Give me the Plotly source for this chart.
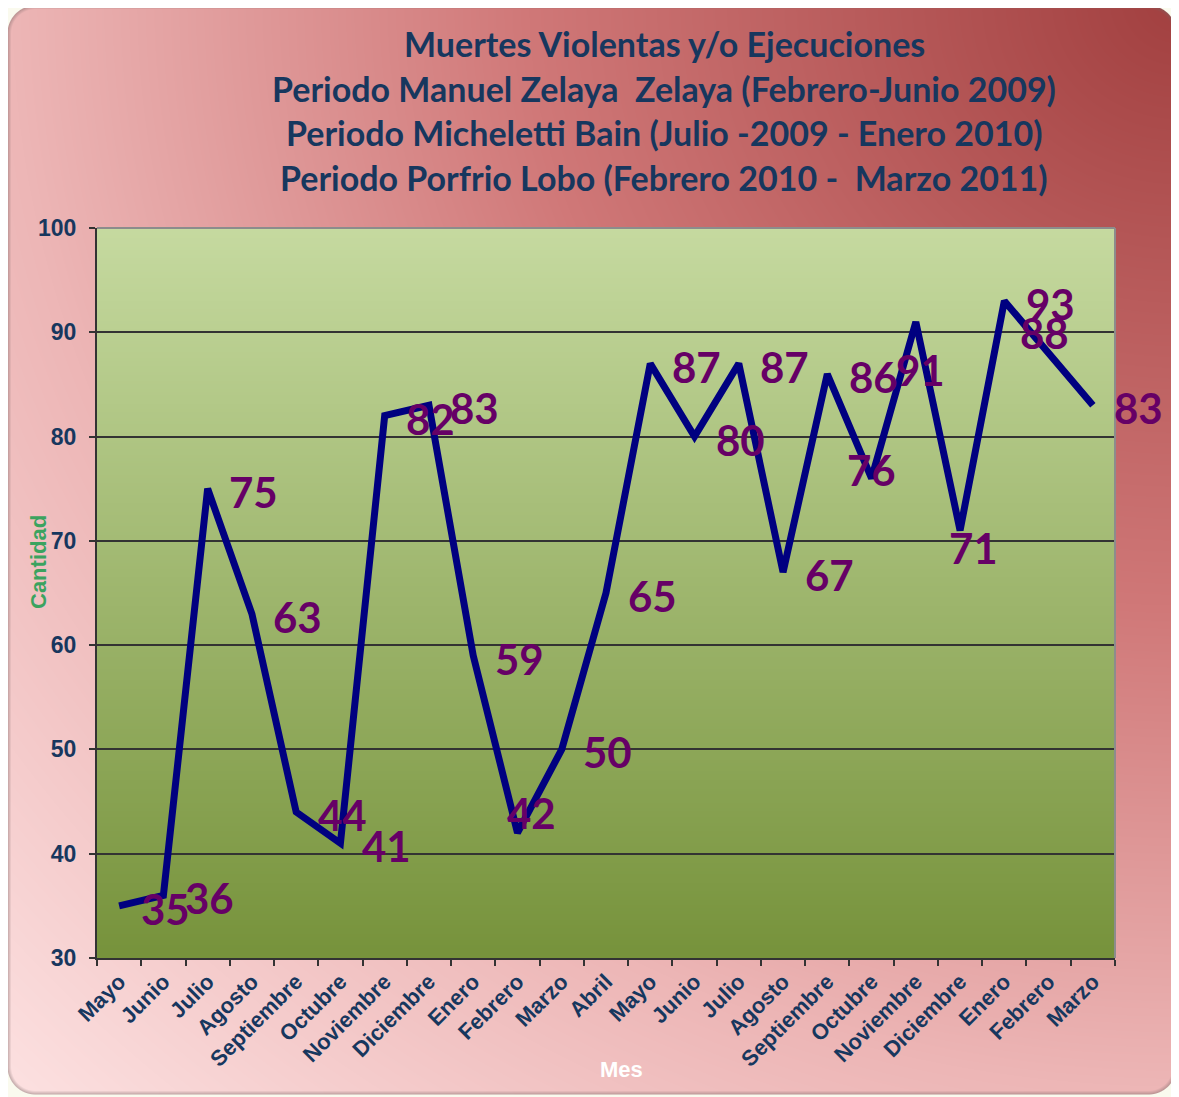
import base64
import struct
import zlib

import numpy as np
import plotly.graph_objects as go

# the page body keeps an 8px margin, so the figure is drawn 8px smaller
OFF = 8
SW, SH = 1179, 1097
FW, FH = SW - OFF, SH - OFF
ML, MR, MT, MB = 97 - OFF, 64, 228 - OFF, 139
PW, PH = FW - ML - MR, FH - MT - MB

meses = ["Mayo", "Junio", "Julio", "Agosto", "Septiembre", "Octubre", "Noviembre", "Diciembre",
         "Enero", "Febrero", "Marzo", "Abril", "Mayo", "Junio", "Julio", "Agosto", "Septiembre",
         "Octubre", "Noviembre", "Diciembre", "Enero", "Febrero", "Marzo"]
anios = [2009] * 8 + [2010] * 12 + [2011] * 3
muertes = [35, 36, 75, 63, 44, 41, 82, 83, 59, 42, 50, 65, 87, 80, 87, 67, 86, 76, 91, 71, 93, 88, 83]

titulo = ["Muertes Violentas y/o Ejecuciones",
          "Periodo Manuel Zelaya  Zelaya (Febrero-Junio 2009)",
          "Periodo Micheletti Bain (Julio -2009 - Enero 2010)",
          "Periodo Porfrio Lobo (Febrero 2010 -  Marzo 2011)"]

cats = [f"{m} {a}" for m, a in zip(meses, anios)]

# labels sit to the right of the point; a few were dragged by hand in the original
desplazamiento = {9: (14, 20), 17: (0, 8), 18: (5, -48), 19: (13, -18), 21: (-4, 20)}


def png_uri(img):
    h, w, _ = img.shape
    raw = b"".join(b"\x00" + img[r].tobytes() for r in range(h))

    def chunk(tag, data):
        return struct.pack(">I", len(data)) + tag + data + struct.pack(">I", zlib.crc32(tag + data) & 0xffffffff)

    png = (b"\x89PNG\r\n\x1a\n"
           + chunk(b"IHDR", struct.pack(">IIBBBBB", w, h, 8, 2, 0, 0, 0))
           + chunk(b"IDAT", zlib.compress(raw, 6))
           + chunk(b"IEND", b""))
    return "data:image/png;base64," + base64.b64encode(png).decode()


# paper background: diagonal red/pink gradient inside a rounded frame (screen coords)
yy, xx = np.mgrid[OFF:SH, OFF:SW].astype(float)
d = np.sqrt((1 - xx / SW) ** 2 + (yy / SH) ** 2) / np.sqrt(2)
stops = [0, 0.39, 0.7, 1.0]
rgb = np.stack([np.interp(d, stops, [162, 208, 237, 253]),
                np.interp(d, stops, [64, 120, 182, 226]),
                np.interp(d, stops, [64, 120, 182, 226])], axis=-1)

x0, y0, x1, y1, rad = 7, 5, SW - 3, SH - 3, 28
cx = np.clip(xx, x0 + rad, x1 - rad)
cy = np.clip(yy, y0 + rad, y1 - rad)
dist = np.sqrt((xx - cx) ** 2 + (yy - cy) ** 2) - rad
edge = np.clip((dist + 4) / 4, 0, 1)[..., None]
rgb = rgb * (1 - 0.45 * edge) + np.array([120, 100, 100]) * 0.45 * edge
inside = np.clip(0.5 - dist, 0, 1)[..., None]
rgb = rgb * inside + np.array([250, 250, 238]) * (1 - inside)
paper_img = png_uri(rgb.astype(np.uint8))

# plot area: vertical green gradient
t = np.linspace(0, 1, 256)[:, None]
col = np.array([198, 218, 160]) * (1 - t) + np.array([119, 147, 60]) * t
plot_rgb = np.repeat(col[:, None, :], 4, axis=1)
plot_img = png_uri(plot_rgb.astype(np.uint8))

fig = go.Figure()
fig.add_trace(go.Scatter(x=cats, y=muertes, mode="lines",
                         line=dict(color="#000080", width=7), hoverinfo="skip"))

for i, (c, v) in enumerate(zip(cats, muertes)):
    dx, dy = desplazamiento.get(i, (46, -3))
    fig.add_annotation(x=c, y=v, text=str(v), showarrow=False, xshift=dx, yshift=dy,
                       font=dict(family="Lato", size=42, color="#660066", weight="bold"))

for i, linea in enumerate(titulo):
    fig.add_annotation(xref="paper", yref="paper", x=(664 - 97) / PW, y=1 + (228 - (43 + 45 * i)) / PH,
                       text=linea, showarrow=False, xanchor="center", yanchor="middle",
                       font=dict(family="Lato", size=34, color="#17375E", weight="bold"))

fig.add_annotation(xref="paper", yref="paper", x=(38 - 97) / PW, y=(958 - 562) / PH,
                   text="Cantidad", textangle=-90, showarrow=False, xanchor="center", yanchor="middle",
                   font=dict(family="Liberation Sans", size=22, color="#3BA35F", weight="bold"))
fig.add_annotation(xref="paper", yref="paper", x=(621 - 97) / PW, y=-(1069 - 958) / PH,
                   text="Mes", showarrow=False, xanchor="center", yanchor="middle",
                   font=dict(family="Liberation Sans", size=22, color="white", weight="bold"))

fig.add_layout_image(source=paper_img, xref="paper", yref="paper", x=-ML / PW, y=1 + MT / PH,
                     sizex=FW / PW, sizey=FH / PH, sizing="stretch", xanchor="left", yanchor="top",
                     layer="below")
fig.add_layout_image(source=plot_img, xref="paper", yref="paper", x=0, y=1, sizex=1, sizey=1,
                     sizing="stretch", xanchor="left", yanchor="top", layer="below")

# gray top/right border of the plot area
fig.add_shape(type="line", xref="paper", yref="paper", x0=0, x1=1, y0=1, y1=1,
              line=dict(color="#8C8C8C", width=2))
fig.add_shape(type="line", xref="paper", yref="paper", x0=1, x1=1, y0=0, y1=1,
              line=dict(color="#8C8C8C", width=2))

fig.update_xaxes(type="category", tickvals=cats, ticktext=meses, tickson="boundaries",
                 ticks="outside", ticklen=6, tickwidth=1.5, tickcolor="#333333", tickangle=-45,
                 tickfont=dict(family="Liberation Sans", size=22, color="#17375E", weight="bold"),
                 showline=True, linecolor="#333333", linewidth=2, showgrid=False,
                 range=[-0.5, len(cats) - 0.5])
fig.update_yaxes(range=[30, 100], dtick=10, ticks="outside", ticklen=6, tickwidth=1.5,
                 tickcolor="#333333", ticklabelstandoff=8,
                 tickfont=dict(family="Liberation Sans", size=23, color="#17375E", weight="bold"),
                 showline=True, linecolor="#333333", linewidth=2, showgrid=True,
                 gridcolor="#333333", gridwidth=1.5, zeroline=False)

fig.update_layout(width=FW, height=FH, margin=dict(l=ML, r=MR, t=MT, b=MB),
                  paper_bgcolor="#FAFAEE", plot_bgcolor="rgba(0,0,0,0)", showlegend=False)

fig.write_html("out.html")
